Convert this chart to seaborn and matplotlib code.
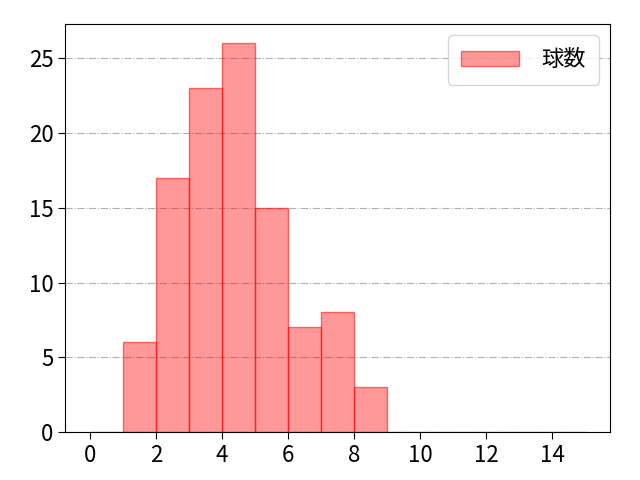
import numpy as np
import pandas as pd
import seaborn as sns
import matplotlib
matplotlib.use('Agg')
import matplotlib.pyplot as plt

sns.set_style('white')
plt.rcParams['font.family'] = ['Noto Sans CJK JP', 'DejaVu Sans']
plt.rcParams['text.color'] = 'black'
plt.rcParams['xtick.color'] = 'black'
plt.rcParams['ytick.color'] = 'black'

# 球数ごとの件数（1球刻み）
bin_left = list(range(15))
counts = [0, 6, 17, 23, 26, 15, 7, 8, 3, 0, 0, 0, 0, 0, 0]
bin_edges = list(range(16))

df = pd.DataFrame({'pitch': bin_left, 'n': counts})

fig, ax = plt.subplots(figsize=(6.4, 4.8), dpi=100)
sns.histplot(data=df, x='pitch', weights='n', bins=bin_edges, ax=ax,
             color='red', alpha=0.4, edgecolor=(1, 0, 0, 0.55), linewidth=1,
             label='球数')

ax.set_xticks(range(0, 15, 2))
ax.set_xlabel('')
ax.set_ylabel('')
ax.tick_params(labelsize=16, direction='out', length=5, left=True, bottom=True)
ax.grid(axis='y', linestyle='-.', color='#b0b0b0', linewidth=0.8)
ax.set_axisbelow(True)
for s in ax.spines.values():
    s.set_color('black')
ax.legend(loc='upper right', fontsize=16, handlelength=2.6, handletextpad=1.0,
          borderpad=0.6)

plt.subplots_adjust(left=0.102, right=0.953, top=0.95, bottom=0.1)
plt.savefig('out.png')
